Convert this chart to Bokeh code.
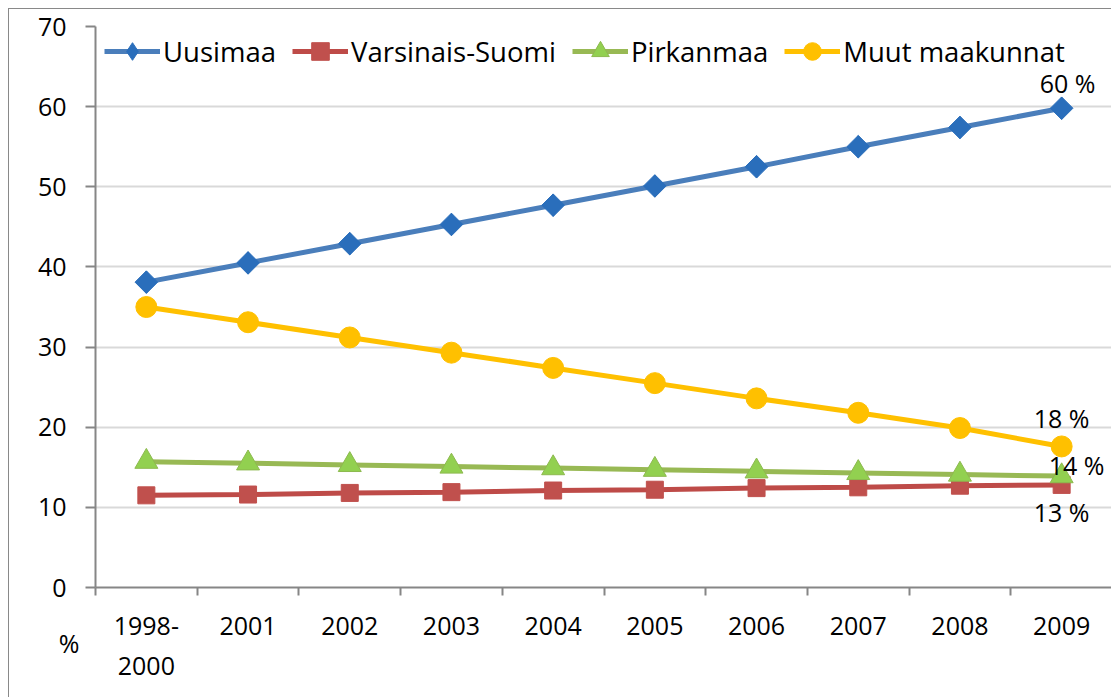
import math
from bokeh.plotting import figure
from bokeh.layouts import column
from bokeh.models import (Range1d, FixedTicker, Legend, LegendItem, ColumnDataSource, Div)
from bokeh.core.properties import value
from bokeh.embed import file_html
from bokeh.resources import INLINE

categories = ["1998-\n2000", "2001", "2002", "2003", "2004", "2005", "2006", "2007", "2008", "2009"]
uusimaa = [38.1, 40.5, 42.9, 45.3, 47.7, 50.1, 52.5, 55.0, 57.4, 59.8]
varsinais_suomi = [11.5, 11.6, 11.8, 11.9, 12.1, 12.2, 12.4, 12.5, 12.7, 12.8]
pirkanmaa = [15.7, 15.5, 15.3, 15.1, 14.9, 14.7, 14.5, 14.3, 14.1, 13.9]
muut = [35.0, 33.1, 31.2, 29.3, 27.4, 25.5, 23.6, 21.8, 19.9, 17.6]
series_names = ["Uusimaa", "Varsinais-Suomi", "Pirkanmaa", "Muut maakunnat"]
end_labels = ["60 %", "13 %", "14 %", "18 %"]
unit_label = "%"
y_ticks = [0, 10, 20, 30, 40, 50, 60, 70]

FONT = "Open Sans"
xs = list(range(len(categories)))

p = figure(width=1103, height=689, output_backend="svg", toolbar_location=None,
           x_range=Range1d(-0.5, len(categories) - 0.5), y_range=Range1d(0, 70),
           min_border_left=86, min_border_top=17, min_border_bottom=111, min_border_right=0,
           styles={"margin-left": "8px", "margin-top": "8px",
                   "border-left": "1px solid #898989", "border-top": "1px solid #898989"})
p.outline_line_color = None
p.background_fill_color = "white"
p.border_fill_color = "white"

# axes
p.xaxis.ticker = FixedTicker(ticks=xs, minor_ticks=[i - 0.5 for i in range(len(categories) + 1)])
p.xaxis.major_label_overrides = {i: c for i, c in enumerate(categories)}
p.xaxis.major_tick_out = 0
p.xaxis.major_tick_in = 0
p.xaxis.minor_tick_line_color = "#868686"
p.xaxis.minor_tick_line_width = 2
p.xaxis.minor_tick_out = 8
p.xaxis.minor_tick_in = 0
p.xaxis.major_label_standoff = 12

p.yaxis.ticker = FixedTicker(ticks=y_ticks)
p.yaxis.major_tick_out = 10
p.yaxis.major_tick_in = 0
p.yaxis.minor_tick_line_color = None
p.yaxis.major_label_standoff = 19

for ax in (p.xaxis[0], p.yaxis[0]):
    ax.axis_line_color = "#868686"
    ax.axis_line_width = 2
    ax.major_tick_line_width = 2
    ax.major_label_text_font = FONT
    ax.major_label_text_font_size = "25px"
    ax.major_label_text_color = "black"
p.xaxis.major_tick_line_color = None
p.yaxis.major_tick_line_color = "#868686"

p.xgrid.grid_line_color = None
p.ygrid.ticker = FixedTicker(ticks=y_ticks[1:])
p.ygrid.grid_line_color = "#D9D9D9"
p.ygrid.grid_line_width = 2

styles = [
    dict(data=uusimaa, line="#4A7EBB", marker="square", angle=math.pi / 4, size=16,
         fill="#2A6EBB", edge="#2A6EBB"),
    dict(data=varsinais_suomi, line="#BE4B48", marker="square", angle=0, size=17,
         fill="#C0504D", edge="#C0504D"),
    dict(data=pirkanmaa, line="#98B954", marker="triangle", angle=0, size=23,
         fill="#92D050", edge="#8DB94F"),
    dict(data=muut, line="#FFC000", marker="circle", angle=0, size=21,
         fill="#FFC000", edge="#FFC000"),
]

items = []
for name, st in zip(series_names, styles):
    src = ColumnDataSource(dict(x=xs, y=st["data"]))
    lr = p.line("x", "y", source=src, line_color=st["line"], line_width=5)
    if st["angle"]:
        # upright diamond used for the legend swatch, hidden beneath the rotated squares
        lm = p.scatter("x", "y", source=src, marker="diamond", size=22,
                       fill_color=st["fill"], line_color=st["edge"], line_width=1)
    sr = p.scatter("x", "y", source=src, marker=st["marker"], angle=st["angle"], size=st["size"],
                   fill_color=st["fill"], line_color=st["edge"], line_width=1)
    if not st["angle"]:
        lm = sr
    items.append(LegendItem(label=name, renderers=[lr, lm]))

legend = Legend(items=items, orientation="horizontal", location=(9, 514),
                label_text_font=FONT, label_text_font_size="27.5px", label_text_color="black",
                glyph_width=56, glyph_height=44, label_height=44, label_standoff=3,
                spacing=16, padding=4, margin=0, background_fill_alpha=0,
                border_line_color=None)
p.add_layout(legend, "center")

# end-of-series data labels
last = len(categories) - 1
offsets = [(6, -25), (0, 27), (15, -11), (0, -28)]
for st, lab, (dx, dy) in zip(styles, end_labels, offsets):
    p.text(x=[last], y=[st["data"][-1]], text=[lab], x_offset=dx, y_offset=dy,
           text_font=value(FONT), text_font_size="25px", text_color="black",
           text_align="center", text_baseline="middle")

# unit label below-left of the axis, as an HTML overlay
unit = Div(text=unit_label, width=30, height=34,
           styles={"position": "absolute", "left": "49px", "top": "621px",
                   "font-family": "Open Sans", "font-size": "25px", "line-height": "34px",
                   "text-align": "center", "color": "black", "z-index": "10"})

layout = column(p, unit)
open("out.html", "w").write(file_html(layout, INLINE))
